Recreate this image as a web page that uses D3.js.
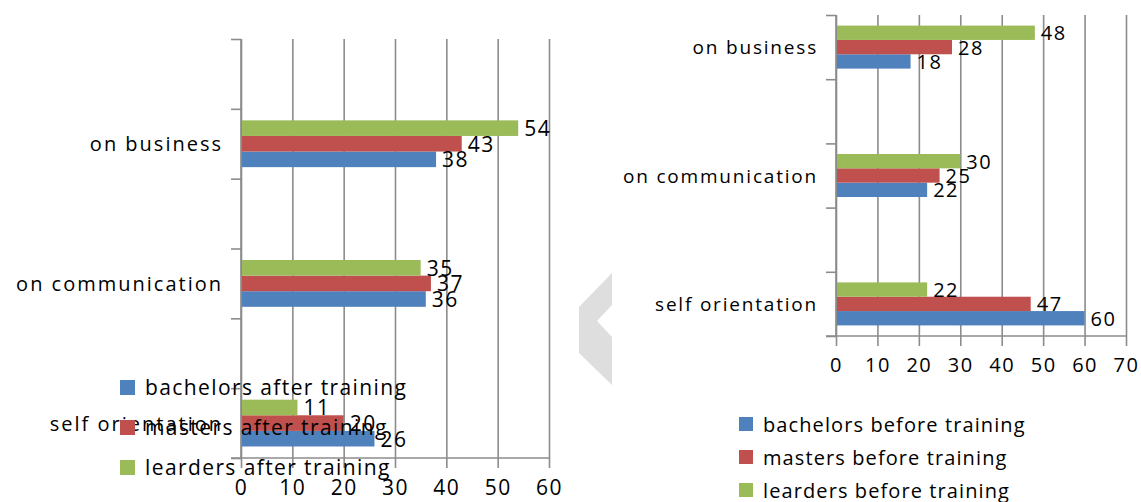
<!DOCTYPE html>
<html>
<head>
<meta charset="utf-8">
<script src="https://cdn.jsdelivr.net/npm/d3@7"></script>
<style>
  body { margin: 0; background: #fff; }
  text { font-family: "Open Sans", sans-serif; fill: #000; }
</style>
</head>
<body>
<script>
// categories, top to bottom
var categories = ["on business", "on communication", "self orientation"];

// after training (left chart)
var bachelorsAfter = [38, 36, 26];
var mastersAfter = [43, 37, 20];
var leadersAfter = [54, 35, 11];
var afterLegend = ["bachelors after training", "masters after training", "learders after training"];
var afterTicks = [0, 10, 20, 30, 40, 50, 60];

// before training (right chart)
var bachelorsBefore = [18, 22, 60];
var mastersBefore = [28, 25, 47];
var leadersBefore = [48, 30, 22];
var beforeLegend = ["bachelors before training", "masters before training", "learders before training"];
var beforeTicks = [0, 10, 20, 30, 40, 50, 60, 70];

var colors = ["#4f81bd", "#c0504d", "#9bbb59"];

var width = 1141, height = 502;

var svg = d3.select("body").append("svg")
    .attr("width", width)
    .attr("height", height);

var drawChart = function (o) {
    var g = svg.append("g");

    var x = d3.scaleLinear()
        .domain([0, d3.max(o.ticks)])
        .range([o.left, o.right]);

    // slots: category names plus empty slots
    var slots = d3.scaleBand()
        .domain(o.slots)
        .range([o.top, o.bottom]);

    var bw = slots.bandwidth();
    var series = [o.bachelors, o.masters, o.leaders];

    // vertical gridlines + x axis labels
    var xAxis = d3.axisBottom(x)
        .tickValues(o.ticks)
        .tickSize(10)
        .tickPadding(12);

    var ax = g.append("g")
        .attr("transform", "translate(0," + o.bottom + ")")
        .call(xAxis);
    ax.select(".domain").remove();
    ax.selectAll(".tick line")
        .attr("y1", -(o.bottom - o.top))
        .attr("stroke", "#8c8c8c")
        .attr("stroke-width", 1.6);
    ax.selectAll(".tick text")
        .style("font-size", o.tickFont + "px")
        .style("letter-spacing", "1.5px")
        .attr("fill", "#000");

    // horizontal axis line
    g.append("line")
        .attr("x1", o.left - 10).attr("x2", x(d3.max(o.ticks)))
        .attr("y1", o.bottom).attr("y2", o.bottom)
        .attr("stroke", "#8c8c8c").attr("stroke-width", 1.6);

    // y axis with ticks on slot boundaries
    var yb = d3.scaleLinear().domain([0, o.slots.length]).range([o.top, o.bottom]);
    var yAxis = d3.axisLeft(yb)
        .tickValues(d3.range(o.slots.length + 1))
        .tickSize(10)
        .tickFormat("");
    var ay = g.append("g")
        .attr("transform", "translate(" + o.left + ",0)")
        .call(yAxis);
    ay.select(".domain").attr("stroke", "#8c8c8c").attr("stroke-width", 1.6).attr("d", "M0," + o.top + "V" + o.bottom);
    ay.selectAll(".tick line").attr("stroke", "#8c8c8c").attr("stroke-width", 1.6);

    // category labels
    g.selectAll(".cat")
        .data(categories)
        .enter().append("text")
        .attr("class", "cat")
        .attr("x", o.left - 18)
        .attr("y", function (d) { return slots(d) + bw / 2; })
        .attr("text-anchor", "end")
        .attr("dominant-baseline", "central")
        .style("font-size", o.catFont + "px")
        .style("letter-spacing", o.catSpace + "px")
        .text(function (d) { return d; });

    // bars: leaders on top, then masters, then bachelors
    var groupH = bw * 0.67;
    var sub = d3.scaleBand()
        .domain([2, 1, 0])
        .range([(bw - groupH) / 2, (bw + groupH) / 2]);

    series.forEach(function (vals, s) {
        var rows = categories.map(function (c, i) { return { cat: c, v: vals[i] }; });
        g.selectAll(".bar" + s)
            .data(rows)
            .enter().append("rect")
            .attr("x", x(0) + 1)
            .attr("y", function (d) { return slots(d.cat) + sub(s); })
            .attr("width", function (d) { return x(d.v) - x(0) - 1; })
            .attr("height", sub.bandwidth())
            .attr("fill", colors[s]);
    });

    series.forEach(function (vals, s) {
        var rows = categories.map(function (c, i) { return { cat: c, v: vals[i] }; });
        g.selectAll(".lab" + s)
            .data(rows)
            .enter().append("text")
            .attr("x", function (d) { return x(d.v) + 6; })
            .attr("y", function (d) { return slots(d.cat) + sub(s) + sub.bandwidth() / 2; })
            .attr("dominant-baseline", "central")
            .style("font-size", o.labFont + "px")
            .style("letter-spacing", "1.5px")
            .text(function (d) { return d.v; });
    });

    // legend
    var lg = g.selectAll(".leg")
        .data(o.legend)
        .enter().append("g")
        .attr("transform", function (d, i) {
            return "translate(" + o.legX + "," + (o.legY + i * o.legStep) + ")";
        });
    lg.append("rect")
        .attr("x", 0).attr("y", -7)
        .attr("width", o.legBox).attr("height", o.legBox)
        .attr("fill", function (d, i) { return colors[i]; });
    lg.append("text")
        .attr("x", o.legBox + 10)
        .attr("y", 0)
        .attr("dominant-baseline", "central")
        .style("font-size", o.legFont + "px")
        .style("letter-spacing", o.legSpace + "px")
        .text(function (d) { return d; });
};

// left chart: after training
drawChart({
    slots: ["s0", categories[0], "s1", categories[1], "s2", categories[2]],
    bachelors: bachelorsAfter, masters: mastersAfter, leaders: leadersAfter,
    ticks: afterTicks, legend: afterLegend,
    left: 241, right: 549, top: 39, bottom: 458,
    tickFont: 21, catFont: 20, catSpace: 2, labFont: 21, legFont: 21, legSpace: 1.4,
    legX: 120, legY: 387, legStep: 40, legBox: 15
});

// right chart: before training
drawChart({
    slots: [categories[0], "s0", categories[1], "s1", categories[2]],
    bachelors: bachelorsBefore, masters: mastersBefore, leaders: leadersBefore,
    ticks: beforeTicks, legend: beforeLegend,
    left: 836, right: 1126, top: 15, bottom: 336,
    tickFont: 20, catFont: 19, catSpace: 1.8, labFont: 20, legFont: 20, legSpace: 1.1,
    legX: 739, legY: 424, legStep: 33, legBox: 14
});

// grey chevron between the charts
svg.append("polygon")
    .attr("points", [[612, 273], [579, 307], [579, 353], [612, 385], [612, 337], [597, 321], [612, 305]]
        .map(function (p) { return p.join(","); }).join(" "))
    .attr("fill", "#dedede");
</script>
</body>
</html>
